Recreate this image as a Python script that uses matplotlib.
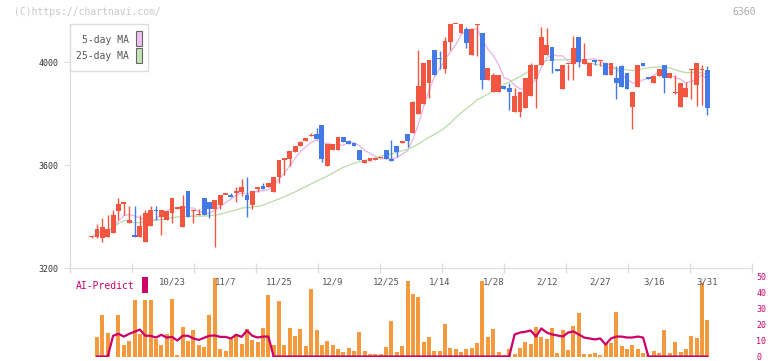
import numpy as np
import pandas as pd
import matplotlib
matplotlib.use('Agg')
import matplotlib.pyplot as plt
from matplotlib.patches import Rectangle
from matplotlib.transforms import blended_transform_factory

# daily OHLC (6360), 116 sessions
opens = [3320, 3320, 3315, 3320, 3335, 3420, 3450, 3375, 3330, 3320,
         3300, 3365, 3425, 3400, 3385, 3415, 3430, 3360, 3500, 3420,
         3405, 3470, 3455, 3430, 3445, 3485, 3485, 3490, 3495, 3485,
         3445, 3505, 3520, 3515, 3495, 3555, 3620, 3625, 3650, 3675,
         3693, 3712, 3720, 3755, 3595, 3660, 3660, 3710, 3695, 3685,
         3660, 3608, 3615, 3620, 3627, 3660, 3622, 3675, 3685, 3720,
         3725, 3800, 3835, 3920, 4045, 4012, 3973, 4078, 4147, 4113,
         4128, 4027, 4143, 4113, 3930, 3884, 3884, 3907, 3899, 3806,
         3806, 3821, 3868, 3934, 3988, 4027, 4058, 3973, 3895, 3992,
         3992, 4097, 3992, 3946, 4008, 4004, 3996, 3950, 3938, 3984,
         3957, 3825, 3903, 3996, 3942, 3918, 3946, 3988, 3938, 3880,
         3825, 3864, 3969, 3911, 3969, 3969]
highs = [3322, 3370, 3395, 3405, 3425, 3470, 3455, 3440, 3440, 3405,
         3425, 3440, 3440, 3425, 3420, 3470, 3435, 3485, 3500, 3430,
         3430, 3470, 3455, 3465, 3485, 3485, 3490, 3515, 3545, 3555,
         3500, 3515, 3530, 3530, 3555, 3620, 3627, 3655, 3675, 3695,
         3705, 3725, 3745, 3755, 3680, 3680, 3710, 3710, 3697, 3685,
         3660, 3620, 3627, 3627, 3627, 3660, 3697, 3675, 3693, 3720,
         3850, 4045, 3995, 4008, 4045, 4043, 4097, 4147, 4147, 4147,
         4136, 4128, 4147, 4113, 3977, 3957, 3950, 3907, 3918, 3899,
         3884, 3938, 3996, 3988, 4136, 4132, 4058, 3973, 3988, 3992,
         4101, 4097, 4074, 3996, 4008, 4004, 3996, 3996, 3984, 3988,
         3957, 3884, 3988, 3996, 3942, 3946, 3973, 3988, 3957, 3950,
         3918, 3922, 3973, 3996, 3988, 3984]
lows = [3318, 3318, 3300, 3320, 3335, 3385, 3405, 3375, 3320, 3320,
        3300, 3365, 3385, 3330, 3385, 3375, 3430, 3360, 3400, 3375,
        3405, 3405, 3395, 3280, 3430, 3485, 3475, 3455, 3480, 3400,
        3430, 3495, 3505, 3515, 3495, 3530, 3560, 3595, 3650, 3675,
        3693, 3712, 3700, 3610, 3595, 3660, 3660, 3690, 3680, 3675,
        3620, 3608, 3615, 3620, 3627, 3625, 3615, 3630, 3685, 3670,
        3725, 3800, 3835, 3860, 3950, 3973, 3957, 4047, 4147, 4113,
        4054, 4027, 4023, 3895, 3930, 3884, 3884, 3895, 3814, 3806,
        3786, 3821, 3868, 3821, 3988, 4027, 3957, 3965, 3895, 3930,
        3930, 3981, 3992, 3946, 3988, 3984, 3950, 3950, 3856, 3903,
        3895, 3740, 3903, 3984, 3934, 3918, 3946, 3880, 3938, 3876,
        3825, 3864, 3856, 3829, 3833, 3794]
closes = [3320, 3350, 3360, 3350, 3405, 3450, 3450, 3385, 3320, 3365,
          3415, 3425, 3420, 3425, 3420, 3470, 3435, 3440, 3400, 3420,
          3405, 3405, 3430, 3465, 3485, 3485, 3475, 3500, 3515, 3465,
          3500, 3515, 3505, 3530, 3555, 3620, 3627, 3655, 3675, 3690,
          3705, 3712, 3700, 3625, 3680, 3680, 3710, 3690, 3680, 3675,
          3620, 3620, 3627, 3627, 3627, 3625, 3615, 3650, 3693, 3693,
          3845, 3905, 3995, 4008, 3950, 4010, 4080, 4147, 4147, 4147,
          4074, 4128, 4143, 3930, 3977, 3950, 3950, 3895, 3884, 3868,
          3884, 3938, 3988, 3988, 4097, 4066, 4004, 3965, 3988, 3992,
          4054, 4000, 4012, 3996, 4000, 4004, 3950, 3996, 3918, 3903,
          3895, 3884, 3988, 3984, 3934, 3946, 3973, 3938, 3957, 3880,
          3918, 3899, 3969, 3996, 3969, 3821]

# volume bars (panel scale 0-50), first session has no bar
volume = [0, 12.4, 26.1, 14.9, 0, 26.1, 7.3, 10.0, 35.5, 14.2,
          35.5, 35.5, 11.1, 7.3, 14.2, 36.2, 1.1, 18.6, 10.0, 16.9,
          7.3, 6.1, 26.1, 49.3, 4.8, 3.6, 11.1, 14.2, 8.0, 17.4,
          10.5, 9.2, 18.0, 38.7, 7.3, 34.9, 7.3, 18.0, 13.0, 17.4,
          6.7, 42.4, 16.7, 7.3, 10.0, 7.3, 4.8, 2.9, 5.5, 3.6,
          15.5, 3.6, 1.7, 1.7, 1.7, 6.1, 22.4, 2.9, 6.7, 47.5,
          39.3, 37.4, 9.2, 12.4, 3.6, 3.6, 20.5, 5.5, 4.8, 2.9,
          4.8, 5.5, 8.6, 47.5, 12.4, 17.4, 2.9, 1.1, 4.8, 1.7,
          5.5, 9.2, 8.0, 18.6, 12.4, 11.1, 18.0, 2.3, 16.7, 4.2,
          19.2, 27.4, 1.7, 1.7, 2.3, 1.1, 8.6, 8.6, 28.0, 6.7,
          4.8, 7.3, 4.8, 2.3, 1.1, 3.6, 2.3, 16.7, 2.3, 9.2,
          2.9, 4.8, 13.0, 11.7, 46.2, 23.0]

# AI-Predict line (right axis 0-50)
ai_predict = [np.nan, 0, 0, 0, 13.0, 14.2, 12.5, 14.2, 15.5, 16.9,
              13.0, 13.0, 11.9, 13.6, 11.9, 12.3, 10.0, 13.0, 13.0, 11.3,
              10.4, 11.7, 13.0, 13.2, 12.3, 12.3, 11.3, 13.6, 12.3, 16.3,
              13.0, 11.9, 12.5, 12.5, 0, 0, 0, 0, 0, 0,
              0, 0, 0, 0, 0, 0, 0, 0, 0, 0,
              0, 0, 0, 0, 0, 0, 0, 0, 0, 0,
              0, 0, 0, 0, 0, 0, 0, 0, 0, 0,
              0, 0, 0, 0, 0, 0, 0, 0, 0, 13.8,
              15.0, 15.5, 16.3, 12.5, 17.6, 15.0, 13.8, 13.2, 12.5, 15.0,
              15.7, 13.8, 11.9, 11.3, 10.7, 11.3, 7.5, 11.3, 12.5, 12.5,
              11.9, 11.9, 12.5, 11.9, 0, 0, 0, 0, 0, 0,
              0, 0, 0, 0, 0, 0]

date_pos = [15, 25, 35, 45, 55, 65, 75, 85, 95, 105, 115]
date_labels = ['10/23', '11/7', '11/25', '12/9', '12/25', '1/14',
               '1/28', '2/12', '2/27', '3/16', '3/31']
price_ticks = [3200, 3600, 4000]
ai_ticks = [0, 10, 20, 30, 40, 50]

W, H = 772, 361
MONO = 'DejaVu Sans Mono'
UP = '#f25540'
DOWN = '#4479e8'
AI_COL = '#cc0066'
GRID = '#dddddd'

def fx(px):
    return px / W

def fy(py):
    return 1 - py / H

fig = plt.figure(figsize=(W / 100, H / 100), dpi=100)
ax = fig.add_axes([fx(70), fy(268), 682 / W, 250 / H])
axv = fig.add_axes([fx(70), fy(356.5), 682 / W, 88.5 / H])

# x in session index, first candle at px 91.7, 5.353 px per session
step = 5.353
xlim = ((70 - 91.7) / step, (752 - 91.7) / step)

o = np.array(opens, dtype=float)
h = np.array(highs, dtype=float)
l = np.array(lows, dtype=float)
c = np.array(closes, dtype=float)
x = np.arange(len(o))
col = [UP if cc >= oo else DOWN for oo, cc in zip(o, c)]

# candles
body_lo = np.minimum(o, c)
body_h = np.maximum(np.abs(c - o), 5)
ax.vlines(x, l, h, colors=col, linewidth=1, zorder=2)
ax.bar(x, body_h, bottom=body_lo, width=0.9, color=col, linewidth=0, zorder=3)

# moving averages
ma5 = pd.Series(c).rolling(5, min_periods=1).mean()
ma25 = pd.Series(c).rolling(25, min_periods=1).mean()
ax.plot(x, ma5, color='#e8b2ea', lw=0.9, zorder=1.5)
ax.plot(x, ma25, color='#b8dca6', lw=0.9, zorder=1.5)

ax.set_xlim(xlim)
ax.set_ylim(3200, 3200 + 250 * 400 / 103)
for s in ['top', 'right']:
    ax.spines[s].set_visible(False)
ax.spines['left'].set_color(GRID)
ax.spines['bottom'].set_color(GRID)
ax.spines['left'].set_bounds(3200, 4147)
ax.set_yticks(price_ticks)
ax.set_yticklabels([str(t) for t in price_ticks], family=MONO, fontsize=6, color='#333333')
ax.set_xticks(np.linspace(xlim[0], xlim[1], 12))
ax.set_xticklabels([])
ax.tick_params(axis='y', length=4, color=GRID, pad=4)
ax.tick_params(axis='x', direction='inout', length=7, color=GRID, width=1)
ax.patch.set_alpha(0)

# volume + AI predict panel
axv.bar(x, volume, width=0.75, color='#f39a3f', linewidth=0, zorder=2)
axv.plot(x, ai_predict, color=AI_COL, lw=1.6, zorder=3)
axv.set_xlim(xlim)
axv.set_ylim(0, 88.5 / 1.595)
for s in axv.spines.values():
    s.set_visible(False)
axv.set_xticks([])
axv.yaxis.tick_right()
axv.set_yticks(ai_ticks)
axv.set_yticklabels([str(t) for t in ai_ticks], family=MONO, fontsize=6, color=AI_COL)
axv.tick_params(axis='y', length=0, pad=3)
axv.patch.set_alpha(0)

tr = blended_transform_factory(axv.transData, axv.transAxes)
for p, lab in zip(date_pos, date_labels):
    axv.text(p, (356.5 - 282) / 88.5, lab, transform=tr, ha='center', va='center',
             family=MONO, fontsize=6.5, color='#555555')

# legend box
fig.add_artist(Rectangle((fx(70), fy(71)), 78 / W, 47 / H, transform=fig.transFigure,
                         fc='white', ec=GRID, lw=1, zorder=5))
fig.text(fx(129), fy(40), '5-day MA', ha='right', va='center', family=MONO,
         fontsize=7, color='#555555', zorder=6)
fig.text(fx(129), fy(56), '25-day MA', ha='right', va='center', family=MONO,
         fontsize=7, color='#555555', zorder=6)
fig.add_artist(Rectangle((fx(136), fy(46)), 6 / W, 15 / H, transform=fig.transFigure,
                         fc='#f0c0f0', ec='#666666', lw=0.8, zorder=6))
fig.add_artist(Rectangle((fx(136), fy(63)), 6 / W, 15 / H, transform=fig.transFigure,
                         fc='#c4e4b4', ec='#666666', lw=0.8, zorder=6))

# AI-Predict label
fig.text(fx(76), fy(286), 'AI-Predict', ha='left', va='center', family=MONO,
         fontsize=7, color=AI_COL, zorder=6)
fig.add_artist(Rectangle((fx(142), fy(293)), 6 / W, 16 / H, transform=fig.transFigure,
                         fc=AI_COL, ec='none', zorder=6))

# header texts
fig.text(fx(14), fy(12), '(C)https://chartnavi.com/', ha='left', va='center',
         family=MONO, fontsize=7, color='#c8c8c8')
fig.text(fx(756), fy(12), '6360', ha='right', va='center', family=MONO,
         fontsize=7, color='#aaaaaa')

fig.savefig('out.png', dpi=100)
